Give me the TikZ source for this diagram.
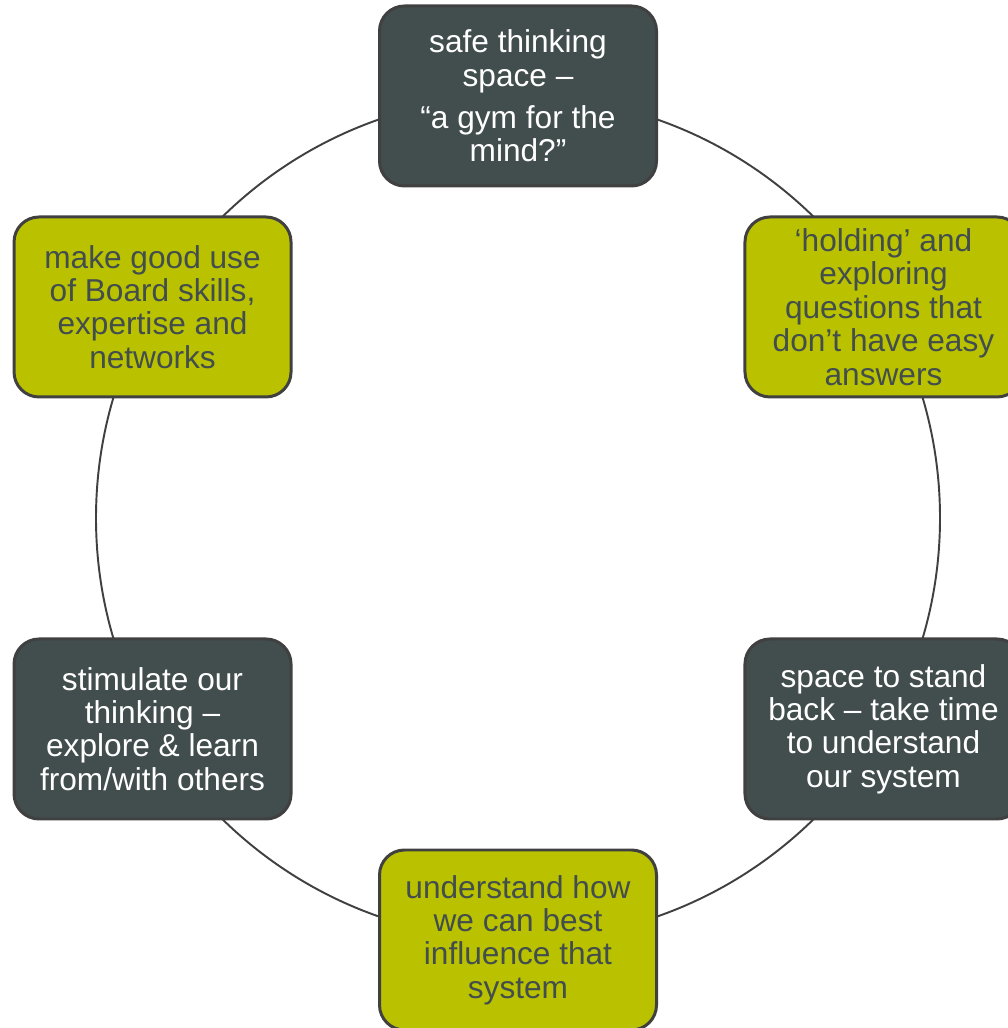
\documentclass[tikz,border=0pt]{standalone}
\usepackage{fontspec}
\setmainfont{Liberation Sans}
\usepackage{xcolor}
\usetikzlibrary{positioning, calc}

\definecolor{slate}{HTML}{424D4E}
\definecolor{moss}{HTML}{BAC200}
\definecolor{rim}{HTML}{404040}

\begin{document}
\begin{tikzpicture}[
    box/.style={draw=rim, line width=1.7pt, rounded corners=0.5cm, minimum width=5.54cm, minimum height=3.6cm, align=center, font=\fontsize{18}{19}\selectfont},
    darkbox/.style={box, fill=slate, text=white},
    greenbox/.style={box, fill=moss, text=slate}]
    \useasboundingbox (0,0) rectangle (20.16,20.56);
    \coordinate (c) at (10.36,10.2);
    \draw[rim, line width=1.1pt] (c) circle (8.44cm);
    \node[darkbox] (safe) at ($(c)+(90:8.44)$) {safe thinking\\space –\\[5pt]“a gym for the\\mind?”};
    \node[greenbox] (holding) at ($(c)+(30:8.44)$) {‘holding’ and\\exploring\\questions that\\don’t have easy\\answers};
    \node[darkbox] (standback) at ($(c)+(-30:8.44)$) {space to stand\\back – take time\\to understand\\our system};
    \node[greenbox] (influence) at ($(c)+(-90:8.44)$) {understand how\\we can best\\influence that\\system};
    \node[darkbox] (stimulate) at ($(c)+(210:8.44)$) {stimulate our\\thinking –\\explore \& learn\\from/with others};
    \node[greenbox] (boardskills) at ($(c)+(150:8.44)$) {make good use\\of Board skills,\\expertise and\\networks};
\end{tikzpicture}
\end{document}
